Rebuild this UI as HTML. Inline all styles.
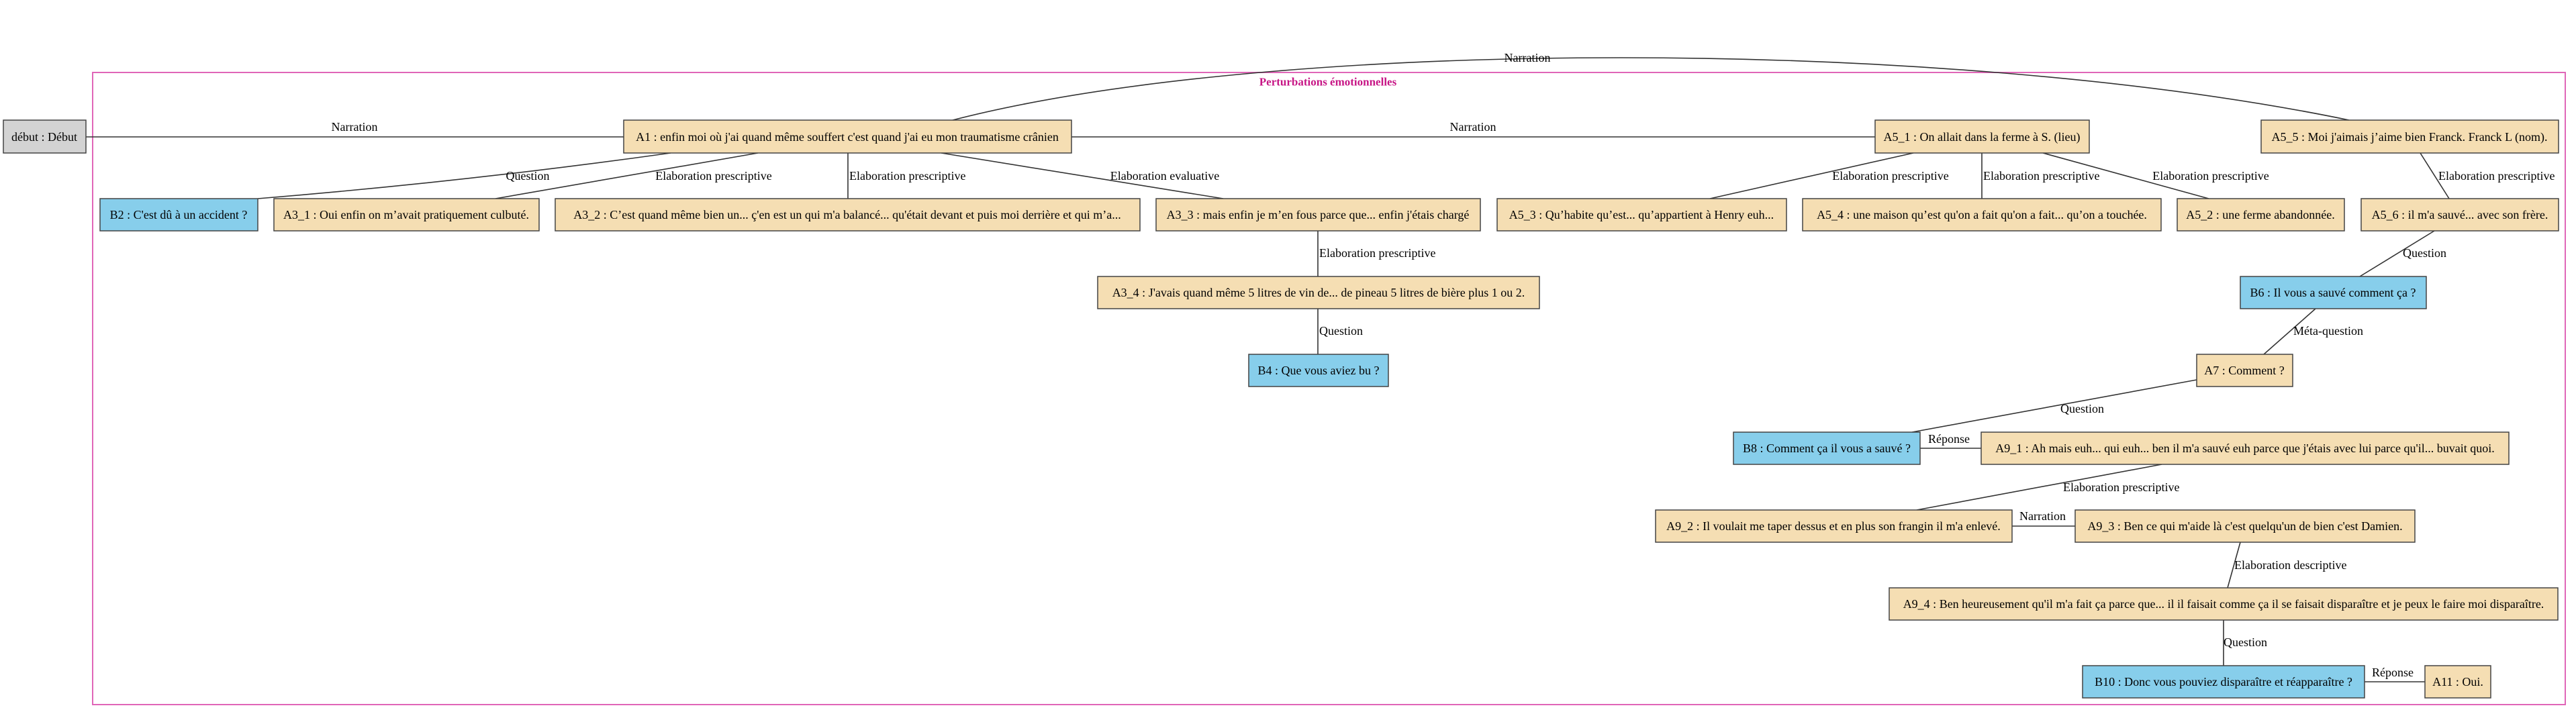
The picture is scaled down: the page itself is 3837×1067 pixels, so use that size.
<!DOCTYPE html>
<html><head><meta charset="utf-8"><style>
html,body{margin:0;padding:0;background:#fff;width:3837px;height:1067px;overflow:hidden}
svg text{font-family:"Liberation Serif",serif;fill:#000}
.n{font-size:18px;text-anchor:middle;dominant-baseline:central}
.l{font-size:18px;dominant-baseline:central}
.c{text-anchor:middle}
.w{fill:#F5DEB3;stroke:#444;stroke-width:1.5}
.b{fill:#87CEEB;stroke:#444;stroke-width:1.5}
.g{fill:#D3D3D3;stroke:#444;stroke-width:1.5}
.e{stroke:#333;stroke-width:1.6;fill:none}
</style></head><body>
<svg width="3837" height="1067" xmlns="http://www.w3.org/2000/svg">
<rect x="138" y="108" width="3683" height="942" fill="none" stroke="#E066B8" stroke-width="2"/>
<text x="1978" y="122" style="font-size:17px;font-weight:bold;fill:#C71585;text-anchor:middle;dominant-baseline:central">Perturbations émotionnelles</text>

<!-- edges -->
<path class="e" d="M128 204 H929"/>
<path class="e" d="M1596 204 H2793"/>
<path class="e" d="M1419 179 C1900 55 2900 55 3499 179"/>
<path class="e" d="M999 228 Q700 270 384 296"/>
<path class="e" d="M1129 228 L738 296"/>
<path class="e" d="M1263 228 V296"/>
<path class="e" d="M1402 228 L1822 296"/>
<path class="e" d="M1963 344 V412"/>
<path class="e" d="M1963 460 V528"/>
<path class="e" d="M2850 228 L2547 296"/>
<path class="e" d="M2952 228 V296"/>
<path class="e" d="M3043 228 L3290 296"/>
<path class="e" d="M3605 228 L3648 296"/>
<path class="e" d="M3626 344 L3515 412"/>
<path class="e" d="M3449 460 L3372 528"/>
<path class="e" d="M3272 566 L2848 644"/>
<path class="e" d="M2860 668 H2951"/>
<path class="e" d="M3220 692 L2855 760"/>
<path class="e" d="M2997 784 H3091"/>
<path class="e" d="M3337 808 L3318 876"/>
<path class="e" d="M3312 924 V992"/>
<path class="e" d="M3522 1016 H3612"/>

<!-- edge labels -->
<text class="l c" x="528" y="189">Narration</text>
<text class="l c" x="2194" y="189">Narration</text>
<text class="l c" x="2275" y="86">Narration</text>
<text class="l c" x="786" y="262">Question</text>
<text class="l c" x="1063" y="262">Elaboration prescriptive</text>
<text class="l" x="1265" y="262">Elaboration prescriptive</text>
<text class="l c" x="1735" y="262">Elaboration evaluative</text>
<text class="l" x="1965" y="377">Elaboration prescriptive</text>
<text class="l" x="1965" y="493">Question</text>
<text class="l c" x="2816" y="262">Elaboration prescriptive</text>
<text class="l" x="2954" y="262">Elaboration prescriptive</text>
<text class="l c" x="3293" y="262">Elaboration prescriptive</text>
<text class="l" x="3632" y="262">Elaboration prescriptive</text>
<text class="l" x="3579" y="377">Question</text>
<text class="l" x="3416" y="493">Méta-question</text>
<text class="l" x="3069" y="609">Question</text>
<text class="l" x="2872" y="654">Réponse</text>
<text class="l" x="3073" y="726">Elaboration prescriptive</text>
<text class="l" x="3008" y="769">Narration</text>
<text class="l" x="3328" y="842">Elaboration descriptive</text>
<text class="l" x="3312" y="957">Question</text>
<text class="l" x="3533" y="1002">Réponse</text>

<!-- nodes -->
<rect class="g" x="5" y="179" width="123" height="49"/><text class="n" x="66" y="204">début : Début</text>
<rect class="w" x="929" y="179" width="667" height="49"/><text class="n" x="1262" y="204">A1 : enfin moi où j'ai quand même souffert c'est quand j'ai eu mon traumatisme crânien</text>
<rect class="w" x="2793" y="179" width="319" height="49"/><text class="n" x="2952" y="204">A5_1 : On allait dans la ferme à S. (lieu)</text>
<rect class="w" x="3368" y="179" width="443" height="49"/><text class="n" x="3589" y="204">A5_5 : Moi j'aimais j’aime bien Franck. Franck L (nom).</text>

<rect class="b" x="149" y="296" width="235" height="48"/><text class="n" x="266" y="320">B2 : C'est dû à un accident ?</text>
<rect class="w" x="408" y="296" width="395" height="48"/><text class="n" x="605" y="320">A3_1 : Oui enfin on m’avait pratiquement culbuté.</text>
<rect class="w" x="827" y="296" width="871" height="48"/><text class="n" x="1262" y="320">A3_2 : C’est quand même bien un...  ç'en est un qui m'a balancé... qu'était devant et puis moi derrière et qui m’a...</text>
<rect class="w" x="1722" y="296" width="483" height="48"/><text class="n" x="1963" y="320">A3_3 : mais enfin je m’en fous parce que... enfin j'étais chargé</text>
<rect class="w" x="2230" y="296" width="431" height="48"/><text class="n" x="2445" y="320">A5_3 : Qu’habite qu’est... qu’appartient à Henry euh...</text>
<rect class="w" x="2685" y="296" width="534" height="48"/><text class="n" x="2952" y="320">A5_4 : une maison qu’est qu'on a fait qu'on a fait... qu’on a touchée.</text>
<rect class="w" x="3243" y="296" width="249" height="48"/><text class="n" x="3367" y="320">A5_2 : une ferme abandonnée.</text>
<rect class="w" x="3517" y="296" width="294" height="48"/><text class="n" x="3664" y="320">A5_6 : il m'a sauvé... avec son frère.</text>

<rect class="w" x="1635" y="412" width="658" height="48"/><text class="n" x="1964" y="436">A3_4 : J'avais quand même 5 litres de vin de... de  pineau 5 litres de bière plus 1 ou 2.</text>
<rect class="b" x="3337" y="412" width="277" height="48"/><text class="n" x="3475" y="436">B6 : Il vous a sauvé comment ça ?</text>
<rect class="b" x="1860" y="528" width="208" height="48"/><text class="n" x="1964" y="552">B4 : Que vous aviez bu ?</text>
<rect class="w" x="3272" y="528" width="143" height="48"/><text class="n" x="3343" y="552">A7 : Comment ?</text>
<rect class="b" x="2582" y="644" width="278" height="48"/><text class="n" x="2721" y="668">B8 : Comment ça il vous a sauvé ?</text>
<rect class="w" x="2951" y="644" width="786" height="48"/><text class="n" x="3344" y="668">A9_1 : Ah mais euh... qui euh... ben il m'a sauvé euh parce que j'étais avec lui parce qu'il... buvait quoi.</text>
<rect class="w" x="2466" y="760" width="531" height="48"/><text class="n" x="2731" y="784">A9_2 : Il voulait me taper dessus et en plus son frangin il m'a enlevé.</text>
<rect class="w" x="3091" y="760" width="506" height="48"/><text class="n" x="3344" y="784">A9_3 : Ben ce qui m'aide là c'est quelqu'un de bien c'est Damien.</text>
<rect class="w" x="2814" y="876" width="996" height="48"/><text class="n" x="3312" y="900">A9_4 : Ben heureusement qu'il m'a fait ça parce que... il il faisait comme ça il se faisait disparaître et je peux le faire moi disparaître.</text>
<rect class="b" x="3102" y="992" width="420" height="48"/><text class="n" x="3312" y="1016">B10 : Donc vous pouviez disparaître et réapparaître ?</text>
<rect class="w" x="3612" y="992" width="98" height="48"/><text class="n" x="3661" y="1016">A11 : Oui.</text>
</svg>
</body></html>
